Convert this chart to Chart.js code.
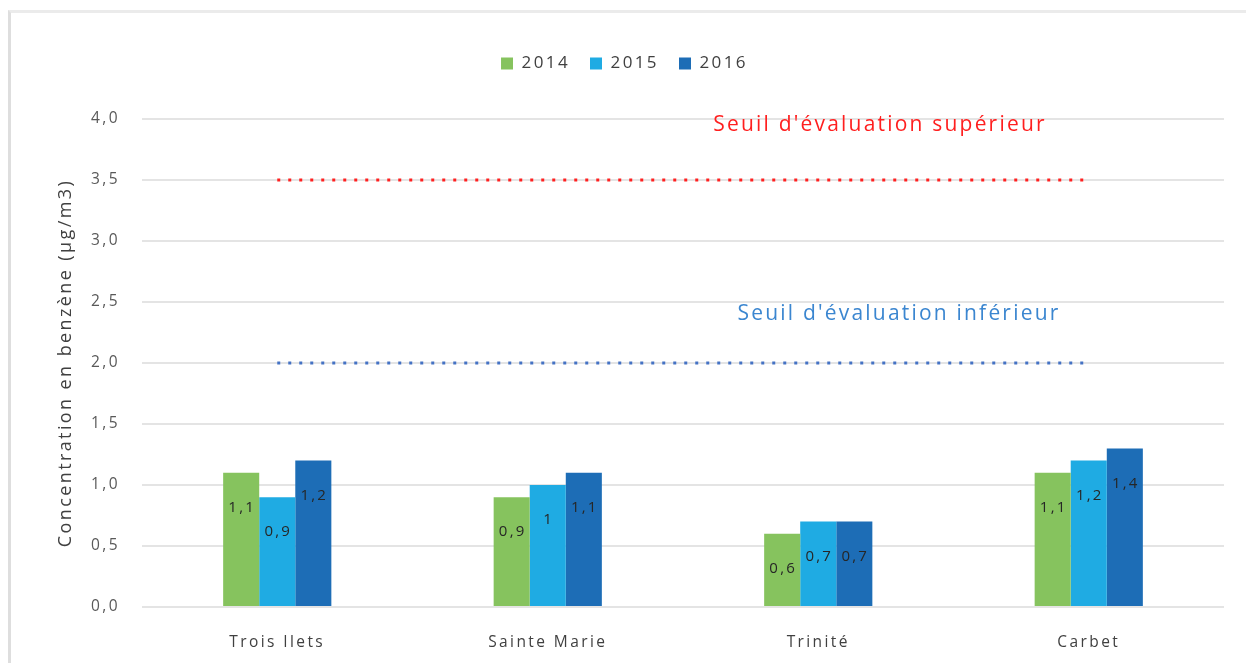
<!DOCTYPE html>
<html>
<head>
<meta charset="utf-8">
<script src="https://cdn.jsdelivr.net/npm/chart.js@4/dist/chart.umd.min.js"></script>
<style>
  body { margin: 0; background: #fff; }
  #wrap { position: relative; width: 1246px; height: 663px; }
  #frame { position: absolute; left: 8px; top: 10px; right: 0; bottom: 0;
           border-top: 3px solid #ebebeb; border-left: 3px solid #dedede; }
  canvas { position: absolute; left: 0; top: 0; }
</style>
</head>
<body>
<div id="wrap">
  <div id="frame"></div>
  <canvas id="benzeneChart" width="1246" height="663"></canvas>
</div>
<script>
// sites et années
const sites = ["Trois Ilets", "Sainte Marie", "Trinité", "Carbet"];
const years = ["2014", "2015", "2016"];
const values2014 = [1.1, 0.9, 0.6, 1.1];
const values2015 = [0.9, 1.0, 0.7, 1.2];
const values2016 = [1.2, 1.1, 0.7, 1.3];
// étiquettes affichées sur les barres (telles que sur le graphique d'origine)
const labels2014 = ["1,1", "0,9", "0,6", "1,1"];
const labels2015 = ["0,9", "1", "0,7", "1,2"];
const labels2016 = ["1,2", "1,1", "0,7", "1,4"];
const seuilSuperieur = [3.5, 3.5, 3.5, 3.5];
const seuilInferieur = [2.0, 2.0, 2.0, 2.0];
const yTicks = [0, 0.5, 1.0, 1.5, 2.0, 2.5, 3.0, 3.5, 4.0];

const barLabels = [labels2014, labels2015, labels2016];

// le texte d'origine est très espacé
const spacing = {
  id: "spacing",
  beforeLayout(chart) { chart.ctx.letterSpacing = "2.4px"; },
  beforeDraw(chart) { chart.ctx.letterSpacing = "2.4px"; },
};

// rallonge la légende pour descendre la zone de tracé
const legendGap = {
  id: "legendGap",
  beforeInit(chart) {
    const fit = chart.legend.fit;
    chart.legend.fit = function () {
      fit.call(this);
      this.height += 37;
    };
  },
};

// étiquettes de valeur dans les barres + textes des seuils
const annotations = {
  id: "annotations",
  afterDatasetsDraw(chart) {
    const ctx = chart.ctx;
    ctx.save();
    ctx.letterSpacing = "2.2px";
    ctx.font = "15px 'Open Sans'";
    ctx.fillStyle = "#262626";
    ctx.textAlign = "center";
    ctx.textBaseline = "middle";
    for (let d = 0; d < 3; d++) {
      chart.getDatasetMeta(d).data.forEach((bar, i) => {
        ctx.fillText(barLabels[d][i], bar.x + 1, bar.y + 35);
      });
    }
    const y = chart.scales.y;
    ctx.letterSpacing = "2.2px";
    ctx.font = "21px 'Open Sans'";
    ctx.fillStyle = "#ff1f1f";
    ctx.fillText("Seuil d'évaluation supérieur", 880, y.getPixelForValue(3.95));
    ctx.fillStyle = "#3b86d0";
    ctx.fillText("Seuil d'évaluation inférieur", 899, y.getPixelForValue(2.4));
    ctx.restore();
  },
};

const ctx = document.getElementById("benzeneChart").getContext("2d");
const chart = new Chart(ctx, {
  type: "bar",
  data: {
    labels: sites,
    datasets: [
      { label: years[0], data: values2014, backgroundColor: "#86c35e" },
      { label: years[1], data: values2015, backgroundColor: "#1fabe3" },
      { label: years[2], data: values2016, backgroundColor: "#1d6db6" },
      {
        type: "line",
        label: "sup",
        data: seuilSuperieur,
        borderColor: "#ff2020",
        borderWidth: 3,
        borderDash: [3, 8],
        pointRadius: 0,
        fill: false,
      },
      {
        type: "line",
        label: "inf",
        data: seuilInferieur,
        borderColor: "#4472c4",
        borderWidth: 3,
        borderDash: [3, 8],
        pointRadius: 0,
        fill: false,
      },
    ],
  },
  options: {
    responsive: false,
    animation: false,
    datasets: { bar: { categoryPercentage: 0.4, barPercentage: 1.0 } },
    layout: { padding: { top: 35, right: 22, left: 25, bottom: 0 } },
    scales: {
      x: {
        grid: { display: false },
        border: { display: false },
        ticks: { padding: 18, color: "#404040", font: { family: "'Open Sans'", size: 15.5 } },
        afterFit(scale) { scale.height = 56; },
      },
      y: {
        min: 0,
        max: 4,
        afterBuildTicks(scale) { scale.ticks = yTicks.map((v) => ({ value: v })); },
        grid: { color: "#e4e4e4", lineWidth: 2, drawTicks: false },
        border: { display: false },
        ticks: {
          padding: 22,
          color: "#595959",
          font: { family: "'Open Sans'", size: 15.5 },
          callback: function (value) {
            return value.toFixed(1).replace(".", ",");
          },
        },
        title: {
          display: true,
          text: "Concentration en benzène (µg/m3)",
          color: "#404040",
          font: { family: "'Open Sans'", size: 18 },
          padding: { top: 30, bottom: 0 },
        },
        afterFit(scale) { scale.width = 117; },
      },
    },
    plugins: {
      legend: {
        position: "top",
        labels: {
          filter: (item) => item.datasetIndex < 3,
          boxWidth: 12,
          boxHeight: 12,
          padding: 20,
          color: "#404040",
          font: { family: "'Open Sans'", size: 17 },
        },
      },
      tooltip: { enabled: false },
    },
  },
  plugins: [spacing, legendGap, annotations],
});
</script>
</body>
</html>
